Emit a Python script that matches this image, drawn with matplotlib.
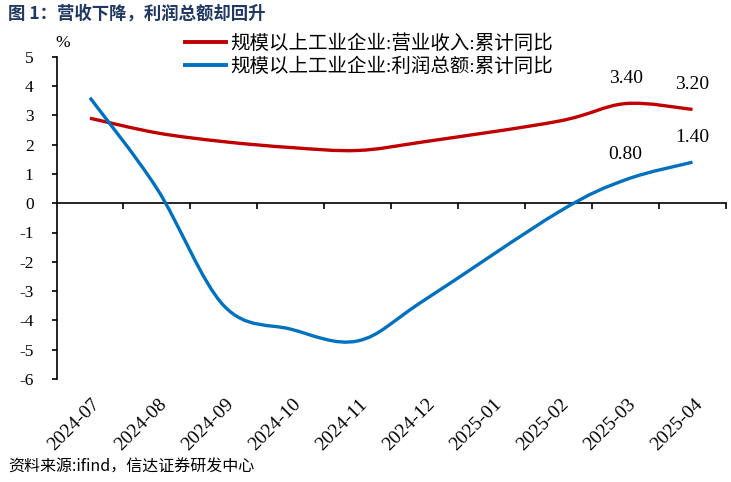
import matplotlib
matplotlib.use("Agg")
import matplotlib.pyplot as plt
from matplotlib.path import Path
from matplotlib.patches import PathPatch
from matplotlib.lines import Line2D
import numpy as np

months = ["2024-07", "2024-08", "2024-09", "2024-10", "2024-11",
          "2024-12", "2025-01", "2025-02", "2025-03", "2025-04"]
# 1月不单独公布，图中平滑连线跨过
revenue = [2.9, 2.4, 2.1, 1.9, 1.8, 2.1, None, 2.8, 3.4, 3.2]
profit = [3.6, 0.5, -3.5, -4.3, -4.7, -3.3, None, -0.3, 0.8, 1.4]
revenue_name = "规模以上工业企业:营业收入:累计同比"
profit_name = "规模以上工业企业:利润总额:累计同比"
labeled = {"2025-03": True, "2025-04": True}

RED = "#C00000"
BLUE = "#0070C0"
SERIF = ["Liberation Serif", "Noto Sans CJK SC"]
CJK = ["Noto Sans CJK SC", "DejaVu Sans"]
plt.rcParams["font.family"] = SERIF


def smooth_path(xs, ys):
    # Excel 风格平滑线：三次贝塞尔，控制点按相邻点斜率取 1/6
    pts = np.column_stack([xs, ys])
    n = len(pts)
    verts = [pts[0]]
    codes = [Path.MOVETO]
    for i in range(n - 1):
        p0 = pts[i - 1] if i > 0 else pts[i]
        p1 = pts[i]
        p2 = pts[i + 1]
        p3 = pts[i + 2] if i + 2 < n else pts[i + 1]
        c1 = p1 + (p2 - p0) / 6.0
        c2 = p2 - (p3 - p1) / 6.0
        verts += [c1, c2, p2]
        codes += [Path.CURVE4] * 3
    return Path(verts, codes)


fig = plt.figure(figsize=(7.31, 4.82), dpi=100)
ax = fig.add_axes([56.5 / 731, 1 - 379 / 482, (726 - 56.5) / 731, (379 - 56.7) / 482])

for vals, color in [(revenue, RED), (profit, BLUE)]:
    xs = [i for i, v in enumerate(vals) if v is not None]
    ys = [v for v in vals if v is not None]
    ax.add_patch(PathPatch(smooth_path(xs, ys), facecolor="none", edgecolor=color,
                           lw=2.4, capstyle="butt", zorder=3))

for vals in [revenue, profit]:
    for i, m in enumerate(months):
        if m in labeled and vals[i] is not None:
            ax.annotate(f"{vals[i]:.2f}", (i, vals[i]), xytext=(0, 18), textcoords="offset points",
                        ha="center", va="center", fontsize=14)

ax.set_xlim(-0.5, len(months) - 0.5)
ax.set_ylim(-6, 5)
ax.set_yticks(range(-6, 6))
ax.set_yticklabels([str(v) for v in range(-6, 6)], fontsize=12.5)
ax.tick_params(axis="y", direction="out", length=3.5, width=1.2, pad=13)

ax.spines["top"].set_visible(False)
ax.spines["right"].set_visible(False)
ax.spines["left"].set_linewidth(1.2)
ax.spines["bottom"].set_position(("data", 0))
ax.spines["bottom"].set_linewidth(1.2)
ax.set_xticks(np.arange(0.5, len(months), 1.0))
ax.set_xticklabels([])
ax.tick_params(axis="x", direction="out", length=4, width=1.2)

for i, m in enumerate(months):
    ax.annotate(m, (i, 0), xycoords=("data", "axes fraction"), xytext=(1, -12),
                textcoords="offset points", rotation=45, rotation_mode="anchor",
                ha="right", va="top", fontsize=14)

fig.text(62.5 / 731, 1 - 43 / 482, "%", ha="center", va="center", fontsize=12.5)

handles = [Line2D([], [], color=RED, lw=2.8), Line2D([], [], color=BLUE, lw=2.8)]
fig.legend(handles, [revenue_name, profit_name], loc="upper left",
           bbox_to_anchor=(185 / 731, 1 - 34 / 482), frameon=False,
           prop={"size": 14}, handlelength=2.1, handletextpad=0.25,
           labelspacing=0.25, borderpad=0, borderaxespad=0)

fig.text(8 / 731, 1 - 14 / 482, "图 1：营收下降，利润总额却回升", ha="left", va="center",
         fontsize=12.5, fontweight="bold", color="#1F3864", family=CJK)
fig.text(8 / 731, 1 - 467 / 482, "资料来源:ifind，信达证券研发中心", ha="left", va="center",
         fontsize=11.5, style="italic", family=CJK)

fig.savefig("out.png", dpi=100)
